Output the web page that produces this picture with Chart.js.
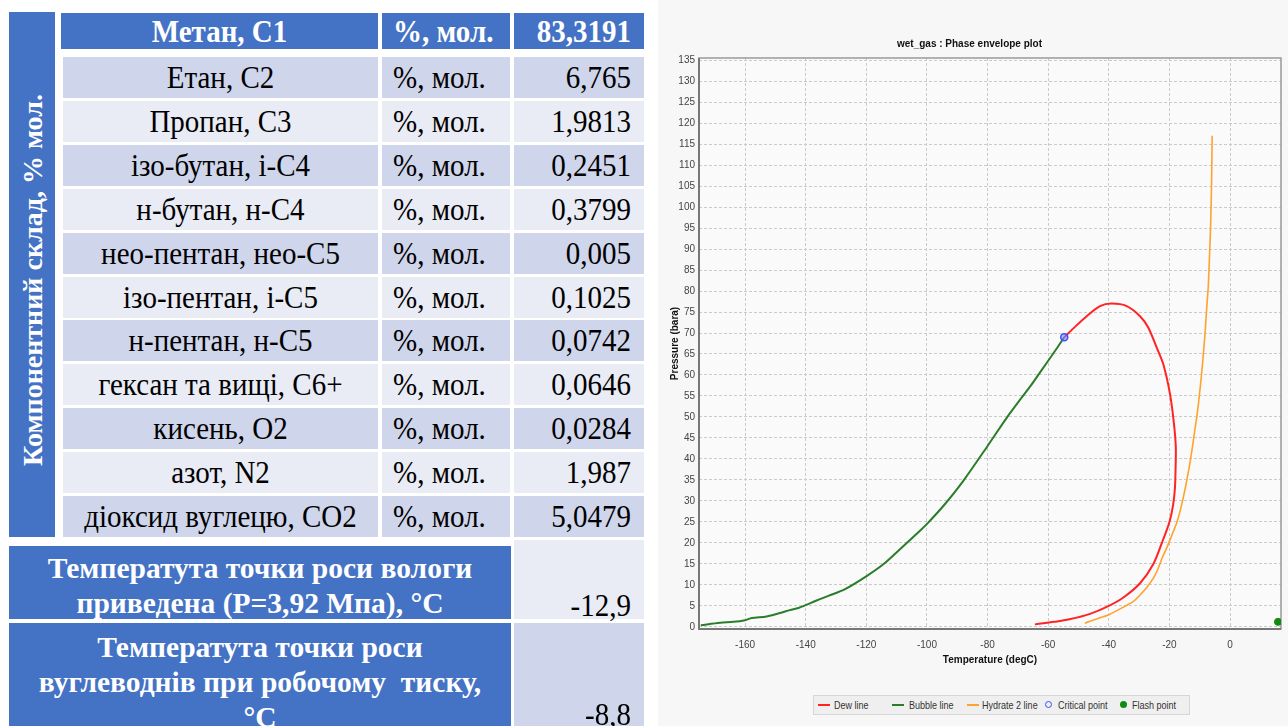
<!DOCTYPE html>
<html>
<head>
<meta charset="utf-8">
<script src="https://cdn.jsdelivr.net/npm/chart.js@4.4.0/dist/chart.umd.min.js"></script>
<style>
  body { margin: 0; width: 1288px; height: 726px; overflow: hidden; background: #ffffff; position: relative;
         font-family: "Liberation Serif", "Times New Roman", serif; }
  .cell { position: absolute; box-sizing: border-box; font-size: 29px; line-height: 1; display: flex; align-items: center; white-space: nowrap; }
  .cell span { display: inline-block; transform: scaleY(1.08); }
  .blue { background: #4472c4; color: #ffffff; font-weight: bold; }
  .dark { background: #cfd5ea; color: #000000; }
  .light { background: #e9ebf5; color: #000000; }
  .name { justify-content: center; }
  .unit { padding-left: 11px; }
  .val { justify-content: flex-end; padding-right: 13px; }
  #vtitle { position: absolute; width: 525px; height: 46px; line-height: 46px; text-align: center; color: #fff;
            font-weight: bold; font-size: 28px; white-space: nowrap; transform: rotate(-90deg); }
  .note { position: absolute; color: #fff; font-weight: bold; font-size: 29.5px; line-height: 35px; text-align: center; white-space: pre; }
  #panel { position: absolute; left: 658px; top: 0; width: 630px; height: 726px; background: #f7f7f7; }
  #legend { position: absolute; left: 813px; top: 695px; width: 377px; height: 20px; box-sizing: border-box;
            background: #efefef; border: 1px solid #d6d6d6; }
  .lg { position: absolute; font-family: "Liberation Sans", Arial, sans-serif; font-size: 11px;
        color: #333; top: 699px; line-height: 12px; white-space: nowrap; transform: scaleX(0.82); transform-origin: 0 50%; }
  .lgline { position: absolute; top: 704px; width: 12px; height: 2px; }
  .lgdot { position: absolute; box-sizing: border-box; width: 7px; height: 7px; border-radius: 50%; top: 701px; }
</style>
</head>
<body>
<div id="table"></div>
<div id="panel"><canvas id="chart" width="630" height="726"></canvas></div>
<div id="legend"></div>
<div id="legendItems"></div>

<script>
// склад газу
var headName = 'Метан, С1';
var headUnit = '%, мол.';
var headValue = '83,3191';

var compNames = ['Етан, С2', 'Пропан, С3', 'ізо-бутан, і-С4', 'н-бутан, н-С4', 'нео-пентан, нео-С5',
  'ізо-пентан, і-С5', 'н-пентан, н-С5', 'гексан та вищі, С6+', 'кисень, О2', 'азот, N2', 'діоксид вуглецю, СО2'];
var compUnits = ['%, мол.', '%, мол.', '%, мол.', '%, мол.', '%, мол.', '%, мол.', '%, мол.', '%, мол.', '%, мол.', '%, мол.', '%, мол.'];
var compValues = ['6,765', '1,9813', '0,2451', '0,3799', '0,005', '0,1025', '0,0742', '0,0646', '0,0284', '1,987', '5,0479'];

var noteLines1 = ['Температута точки роси вологи', 'приведена (Р=3,92 Мпа), °С'];
var noteValue1 = '-12,9';
var noteLines2 = ['Температута точки роси', 'вуглеводнів при робочому  тиску,', '°С'];
var noteValue2 = '-8,8';

// phase envelope
var dewT = [-54.7, -51.7, -47.3, -42.9, -39.1, -34.1, -29.7, -27.0, -24.2, -22.0, -19.8, -18.5, -17.9, -18.0, -18.2, -18.8, -20.0, -22.5, -25.3, -29.7, -35.2, -40.0, -46.2, -53.0, -58.0, -64.4];
var dewP = [69.0, 71.1, 74.0, 76.4, 77.0, 76.4, 74.0, 71.3, 66.5, 62.5, 55.4, 48.3, 42.7, 37.1, 33.0, 29.0, 25.0, 20.0, 15.0, 10.4, 7.0, 5.0, 3.1, 1.8, 1.2, 0.6];

var bubbleT = [-174.6, -168.2, -163.8, -160.0, -157.8, -152.9, -148.5, -145.2, -142.4, -140.0, -136.4, -132.5, -127.0, -119.9, -114.4, -108.9, -102.3, -99.9, -94.6, -88.0, -80.0, -73.7, -69.4, -65.5, -62.8, -57.2, -54.7];
var bubbleP = [0.4, 1.0, 1.2, 1.6, 2.1, 2.5, 3.3, 4.0, 4.5, 5.2, 6.3, 7.4, 9.0, 12.1, 14.9, 18.5, 22.9, 24.6, 28.8, 34.8, 43.1, 49.8, 54.0, 57.7, 60.5, 66.3, 69.0];

var hydrateT = [-47.9, -44.0, -40.0, -35.2, -32.0, -29.7, -27.5, -25.3, -23.8, -22.4, -20.8, -19.4, -17.5, -16.0, -14.8, -13.6, -12.6, -11.6, -10.8, -10.0, -9.3, -8.8, -8.2, -7.7, -7.2, -6.8, -6.4, -6.1, -5.9];
var hydrateP = [0.9, 1.9, 2.9, 4.7, 6.0, 7.6, 9.4, 11.6, 13.8, 16.4, 19.0, 21.5, 25.0, 29.0, 33.0, 37.5, 42.0, 47.0, 51.0, 56.0, 61.0, 65.0, 70.5, 76.0, 81.0, 88.0, 96.0, 106.0, 117.0];

var criticalT = [-54.7];
var criticalP = [69.0];
var flashT = [15.8];
var flashP = [1.2];

var xTicks = [-160, -140, -120, -100, -80, -60, -40, -20, 0];
var yTicks = [0, 5, 10, 15, 20, 25, 30, 35, 40, 45, 50, 55, 60, 65, 70, 75, 80, 85, 90, 95, 100, 105, 110, 115, 120, 125, 130, 135];

var seriesLabels = ['Dew line', 'Bubble line', 'Hydrate 2 line', 'Critical point', 'Flash point'];
var seriesColors = ['#ff2424', '#2a7d2a', '#ffa22e', '#3d4dff', '#118a11'];

var sansFont = '"Liberation Sans", Arial, sans-serif';

// --- table ---
function addCell(cls, text, left, cellTop, width, height) {
    var d = document.createElement('div');
    d.className = 'cell ' + cls;
    d.style.left = left + 'px';
    d.style.top = cellTop + 'px';
    d.style.width = width + 'px';
    d.style.height = height + 'px';
    if (text) {
        var s = document.createElement('span');
        s.textContent = text;
        d.appendChild(s);
    }
    document.getElementById('table').appendChild(d);
    return d;
}

addCell('blue', '', 9, 12, 46, 525);
addCell('blue name', headName, 61, 13, 317, 36);
addCell('blue unit', headUnit, 382, 13, 128, 36);
addCell('blue val', headValue, 514, 13, 130, 36);

for (var i = 0; i < compNames.length; i++) {
    var rowTop = 57 + i * 43.9;
    var shade = (i % 2 == 0) ? 'dark' : 'light';
    addCell(shade + ' name', compNames[i], 63, rowTop, 315, 41);
    addCell(shade + ' unit', compUnits[i], 382, rowTop, 128, 41);
    addCell(shade + ' val', compValues[i], 514, rowTop, 130, 41);
}

var vt = document.createElement('div');
vt.id = 'vtitle';
vt.textContent = 'Компонентний склад, % мол.';
vt.style.left = (32 - 262.5) + 'px';
vt.style.top = (280 - 23) + 'px';
document.body.appendChild(vt);

addCell('blue', '', 9, 546, 502, 73);
addCell('light', '', 514, 540, 130, 79);
addCell('blue', '', 9, 623, 502, 110);
addCell('dark', '', 514, 623, 130, 110);

function addNote(lines, noteTop) {
    var d = document.createElement('div');
    d.className = 'note';
    d.style.left = '9px';
    d.style.width = '502px';
    d.style.top = noteTop + 'px';
    d.textContent = lines.join('\n');
    document.body.appendChild(d);
}
addNote(noteLines1, 551);
addNote(noteLines2, 630);

function addNoteValue(text, valTop) {
    var d = addCell('val', text, 514, valTop, 130, 30);
    document.body.appendChild(d);
}
addNoteValue(noteValue1, 590);
addNoteValue(noteValue2, 699);

// --- legend ---
var legendLeft = [818, 892, 967, 1045, 1120];
var legendTextLeft = [834, 909, 982, 1058, 1132];
var legendBox = document.getElementById('legendItems');
for (var k = 0; k < seriesLabels.length; k++) {
    var mark = document.createElement('div');
    if (k < 3) {
        mark.className = 'lgline';
        mark.style.background = seriesColors[k];
    } else if (k == 3) {
        mark.className = 'lgdot';
        mark.style.border = '1.5px solid ' + seriesColors[k];
    } else {
        mark.className = 'lgdot';
        mark.style.background = seriesColors[k];
    }
    mark.style.left = legendLeft[k] + 'px';
    legendBox.appendChild(mark);

    var txt = document.createElement('div');
    txt.className = 'lg';
    txt.style.left = legendTextLeft[k] + 'px';
    txt.textContent = seriesLabels[k];
    legendBox.appendChild(txt);
}

// --- chart ---
function toPoints(xs, ys) {
    var pts = [];
    for (var j = 0; j < xs.length; j++) pts.push({ x: xs[j], y: ys[j] });
    return pts;
}

var framePlugin = {
    id: 'frame',
    beforeDraw: function (chart) {
        var a = chart.chartArea;
        var ctx = chart.ctx;
        ctx.save();
        ctx.fillStyle = '#fafafa';
        ctx.fillRect(a.left, a.top, a.right - a.left, a.bottom - a.top);
        ctx.restore();
    },
    beforeDatasetsDraw: function (chart) {
        var a = chart.chartArea;
        var ctx = chart.ctx;
        ctx.save();
        ctx.strokeStyle = '#999999';
        ctx.lineWidth = 1.5;
        ctx.strokeRect(a.left, a.top, a.right - a.left, a.bottom - a.top);
        // left and bottom axis lines are darker
        ctx.strokeStyle = '#777777';
        ctx.lineWidth = 2;
        ctx.beginPath();
        ctx.moveTo(a.left, a.top);
        ctx.lineTo(a.left, a.bottom);
        ctx.lineTo(a.right, a.bottom);
        ctx.stroke();
        ctx.restore();
    }
};

var ctx = document.getElementById('chart').getContext('2d');

var phaseChart = new Chart(ctx, {
    type: 'scatter',
    data: {
        datasets: [
            {
                label: seriesLabels[3],
                data: toPoints(criticalT, criticalP),
                pointRadius: 3.5,
                pointBorderWidth: 1.5,
                borderColor: seriesColors[3],
                backgroundColor: 'rgba(120,135,255,0.55)',
                showLine: false
            },
            {
                label: seriesLabels[4],
                data: toPoints(flashT, flashP),
                pointRadius: 3.5,
                borderColor: seriesColors[4],
                backgroundColor: seriesColors[4],
                showLine: false
            },
            {
                label: seriesLabels[0],
                data: toPoints(dewT, dewP),
                showLine: true,
                borderColor: seriesColors[0],
                borderWidth: 2,
                pointRadius: 0,
                tension: 0.3
            },
            {
                label: seriesLabels[1],
                data: toPoints(bubbleT, bubbleP),
                showLine: true,
                borderColor: seriesColors[1],
                borderWidth: 2,
                pointRadius: 0,
                tension: 0.3
            },
            {
                label: seriesLabels[2],
                data: toPoints(hydrateT, hydrateP),
                showLine: true,
                borderColor: seriesColors[2],
                borderWidth: 1.6,
                pointRadius: 0,
                tension: 0.2
            }
        ]
    },
    options: {
        responsive: false,
        animation: false,
        layout: { padding: { left: 0, right: 7, top: 0, bottom: 57 } },
        plugins: {
            legend: { display: false },
            tooltip: { enabled: false },
            title: {
                display: true,
                text: 'wet_gas : Phase envelope plot',
                color: '#111',
                font: { family: sansFont, size: 10, weight: 'bold' },
                padding: { top: 38, bottom: 8 }
            }
        },
        scales: {
            x: {
                type: 'linear',
                min: -175.2,
                max: 16.8,
                afterBuildTicks: function (scale) {
                    scale.ticks = xTicks.map(function (v) { return { value: v }; });
                },
                afterFit: function (scale) { scale.height = 40; },
                ticks: { color: '#444', font: { family: sansFont, size: 10 }, padding: 10, maxRotation: 0, autoSkip: false },
                grid: { color: '#cbcbcb', lineWidth: 1, drawTicks: false },
                border: { display: false, dash: [3, 2] },
                title: {
                    display: true,
                    text: 'Temperature (degC)',
                    color: '#111',
                    font: { family: sansFont, size: 10, weight: 'bold' },
                    padding: { top: 0, bottom: 3 }
                }
            },
            y: {
                type: 'linear',
                min: -0.5,
                max: 135.5,
                afterBuildTicks: function (scale) {
                    scale.ticks = yTicks.map(function (v) { return { value: v }; });
                },
                afterFit: function (scale) { scale.width = 41; },
                ticks: { color: '#444', font: { family: sansFont, size: 10 }, padding: 4, autoSkip: false },
                grid: { color: '#cbcbcb', lineWidth: 1, drawTicks: false },
                border: { display: false, dash: [3, 2] },
                title: {
                    display: true,
                    text: 'Pressure (bara)',
                    color: '#111',
                    font: { family: sansFont, size: 10, weight: 'bold' },
                    padding: { top: 11, bottom: 0 }
                }
            }
        }
    },
    plugins: [framePlugin]
});
</script>
</body>
</html>
